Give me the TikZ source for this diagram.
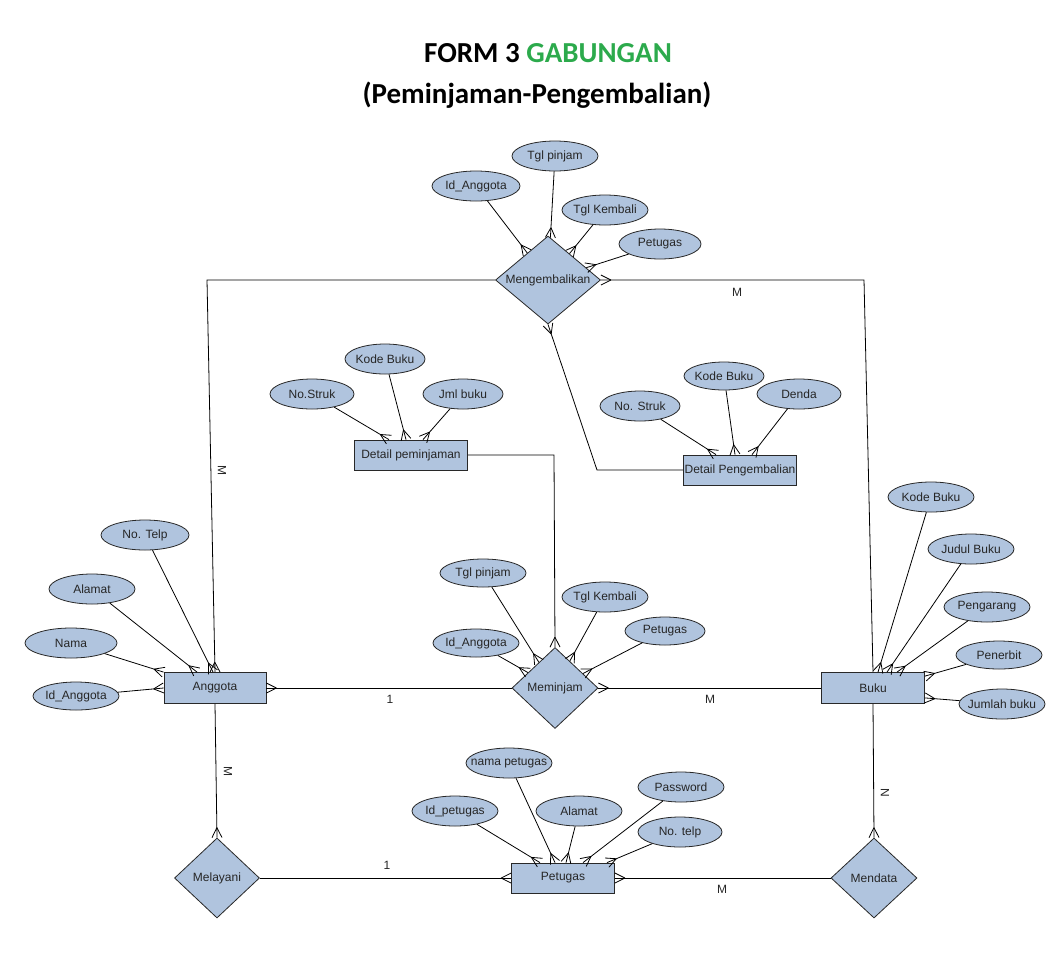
\documentclass[tikz,border=0pt]{standalone}
\usepackage{fontspec}
\setmainfont{Liberation Sans}
\newfontfamily\titlefont{Carlito}
\usetikzlibrary{shapes.geometric,decorations.markings}
\definecolor{steel}{RGB}{176,196,222}
\definecolor{stroke}{RGB}{40,40,40}
\definecolor{titlegreen}{RGB}{44,170,76}
\tikzset{
  txt/.style={font=\fontsize{12}{14}\selectfont, text=black!85, inner sep=0pt},
  attr/.style={ellipse, draw=stroke, fill=steel, line width=0.8pt, minimum width=86pt, minimum height=30pt, inner sep=0pt, label={[txt]center:#1}},
  ent/.style={rectangle, draw=stroke, fill=steel, line width=0.8pt, minimum width=103pt, minimum height=31pt, inner sep=0pt, label={[txt]center:#1}},
  rel/.style={diamond, draw=stroke, fill=steel, line width=0.8pt, inner sep=0pt, label={[txt]center:#1}},
  conn/.style={draw=black, line width=0.8pt},
  cfe/.style={postaction={decorate,decoration={markings,mark=at position 1 with {\draw[line width=0.8pt] (-10pt,0)--(0,5pt) (-10pt,0)--(0,-5pt);}}}},
  cfs/.style={postaction={decorate,decoration={markings,mark=at position 0 with {\draw[line width=0.8pt] (10pt,0)--(0,5pt) (10pt,0)--(0,-5pt);}}}},
  elab/.style={txt},
}
\begin{document}
\begin{tikzpicture}[x=1pt,y=-1pt]
\useasboundingbox (0,0) rectangle (1064,970);
\fill[white] (0,0) rectangle (1064,970);

% Title
\node[anchor=base, inner sep=0pt, font=\titlefont\bfseries\fontsize{29}{34}\selectfont] (t1) at (548,62) {FORM 3 \textcolor{titlegreen}{GABUNGAN}};
\node[anchor=base, inner sep=0pt, font=\titlefont\bfseries\fontsize{29}{34}\selectfont] (t2) at (537,103) {(Peminjaman-Pengembalian)};

% Entities
\node[ent=Anggota, minimum width=102pt] (ang) at (215,688) {};
\node[ent=Buku] (buku) at (873,688) {};
\node[ent=Petugas, minimum height=30pt] (pt) at (563,878) {};
\node[ent={Detail peminjaman}, minimum width=113pt, minimum height=30pt] (dpj) at (411,455) {};
\node[ent={Detail Pengembalian}, minimum width=113pt, minimum height=30pt] (dpg) at (740,470) {};

% Relationships
\node[rel=Mengembalikan, minimum width=105pt, minimum height=88pt] (mg) at (548,280) {};
\node[rel=Meminjam, minimum width=86pt, minimum height=81pt] (mj) at (555,688) {};
\node[rel=Melayani, minimum width=85pt, minimum height=80pt] (ml) at (217,878) {};
\node[rel=Mendata, minimum width=86pt, minimum height=80pt] (md) at (874,878) {};

% Attributes: Mengembalikan
\node[attr=Id\_Anggota, minimum width=88pt] (mg1) at (476,186) {};
\node[attr={Tgl pinjam}] (mg2) at (555,156) {};
\node[attr={Tgl Kembali}] (mg3) at (605,210) {};
\node[attr=Petugas, minimum width=82pt] (mg4) at (660,244) {};
% Detail peminjaman
\node[attr=No.Struk, minimum width=84pt] (dj1) at (312,394) {};
\node[attr={Kode Buku}, minimum width=80pt] (dj2) at (385,359) {};
\node[attr={Jml buku}, minimum width=80pt] (dj3) at (463,394) {};
% Detail Pengembalian
\node[attr={No. Struk}, minimum width=80pt] (dk1) at (640,406) {};
\node[attr={Kode Buku}, minimum width=80pt, minimum height=28pt] (dk2) at (724,376) {};
\node[attr=Denda, minimum width=84pt] (dk3) at (799,394) {};
% Meminjam
\node[attr={Tgl pinjam}, minimum height=28pt] (mj1) at (483,573) {};
\node[attr={Tgl Kembali}] (mj2) at (605,597) {};
\node[attr=Id\_Anggota, minimum height=28pt] (mj3) at (476,643) {};
\node[attr=Petugas, minimum width=80pt, minimum height=28pt] (mj4) at (665,631) {};
% Anggota
\node[attr={No. Telp}, minimum width=88pt] (a1) at (145,535) {};
\node[attr=Alamat] (a2) at (92,589) {};
\node[attr=Nama, minimum width=92pt] (a3) at (71,643) {};
\node[attr=Id\_Anggota, minimum height=28pt] (a4) at (76,696) {};
% Buku
\node[attr={Kode Buku}] (b1) at (931,497) {};
\node[attr={Judul Buku}] (b2) at (971,549) {};
\node[attr=Pengarang] (b3) at (987,607) {};
\node[attr=Penerbit, minimum height=28pt] (b4) at (999,655) {};
\node[attr={Jumlah buku}] (b5) at (1002,704) {};
% Petugas
\node[attr={nama petugas}] (p1) at (509,763) {};
\node[attr=Id\_petugas] (p2) at (455,811) {};
\node[attr=Alamat] (p3) at (579,811) {};
\node[attr=Password] (p4) at (681,787) {};
\node[attr={No. telp}, minimum width=84pt] (p5) at (680,832) {};

% Bend points
\coordinate (c1) at (207,280);
\coordinate (c2) at (864,280);
\coordinate (c3) at (597,470);
\coordinate (c4) at (554,455);

% Relationship connectors
\draw[conn, cfe] (mg.west) -- (c1) -- (ang.north);
\draw[conn, cfs] (mg.east) -- (c2) -- (buku.north);
\draw[conn, cfs] (mg.south) -- (c3) -- (dpg.west);
\draw[conn, cfe] (dpj.east) -- (c4) -- (mj.north);
\draw[conn, cfs] (ang.east) -- (mj.west);
\draw[conn, cfs] (mj.east) -- (buku.west);
\draw[conn, cfe] (ang.south) -- (ml.north);
\draw[conn, cfe] (ml.east) -- (pt.west);
\draw[conn, cfe] (md.west) -- (pt.east);
\draw[conn, cfe] (buku.south) -- (md.north);

% Attribute connectors
\foreach \a in {mg1,mg2,mg3,mg4} {\draw[conn, cfe] (\a) -- (mg);}
\foreach \a in {mj1,mj2,mj3,mj4} {\draw[conn, cfe] (\a) -- (mj);}
\draw[conn, cfe] (dj1) -- ([xshift=-22pt]dpj.north);
\draw[conn, cfe] (dj2) -- ([xshift=-5pt]dpj.north);
\draw[conn, cfe] (dj3) -- ([xshift=12pt]dpj.north);
\draw[conn, cfe] (dk1) -- ([xshift=-24pt]dpg.north);
\draw[conn, cfe] (dk2) -- ([xshift=-5pt]dpg.north);
\draw[conn, cfe] (dk3) -- ([xshift=12pt]dpg.north);
\draw[conn, cfe] (a1) -- ([xshift=-2pt]ang.north);
\draw[conn, cfe] (a2) -- ([xshift=-18pt]ang.north);
\draw[conn, cfe] (a3) -- (ang.north west);
\draw[conn, cfe] (a4) -- (ang.west);
\draw[conn, cfe] (b1) -- ([xshift=5pt]buku.north);
\draw[conn, cfe] (b2) -- ([xshift=14pt]buku.north);
\draw[conn, cfe] (b3) -- ([xshift=24pt]buku.north);
\draw[conn, cfe] (b4) -- ([yshift=-4pt]buku.north east);
\draw[conn, cfe] (b5) -- ([yshift=6pt]buku.south east);
\draw[conn, cfe] (p2) -- ([xshift=-23pt]pt.north);
\draw[conn, cfe] (p1) -- ([xshift=-8pt]pt.north);
\draw[conn, cfe] (p3) -- ([xshift=3pt]pt.north);
\draw[conn, cfe] (p4) -- ([xshift=20pt]pt.north);
\draw[conn, cfe] (p5) -- ([xshift=44pt]pt.north);

% Edge labels
\node[elab] (l1) at (737,292) {M};
\node[elab, rotate=-90] (l2) at (222,470) {M};
\node[elab] (l3) at (390,699) {1};
\node[elab] (l4) at (710,699) {M};
\node[elab, rotate=-90] (l5) at (228,771) {M};
\node[elab, rotate=-90] (l6) at (885,793) {N};
\node[elab] (l7) at (387,865) {1};
\node[elab] (l8) at (722,889) {M};
\end{tikzpicture}
\end{document}
